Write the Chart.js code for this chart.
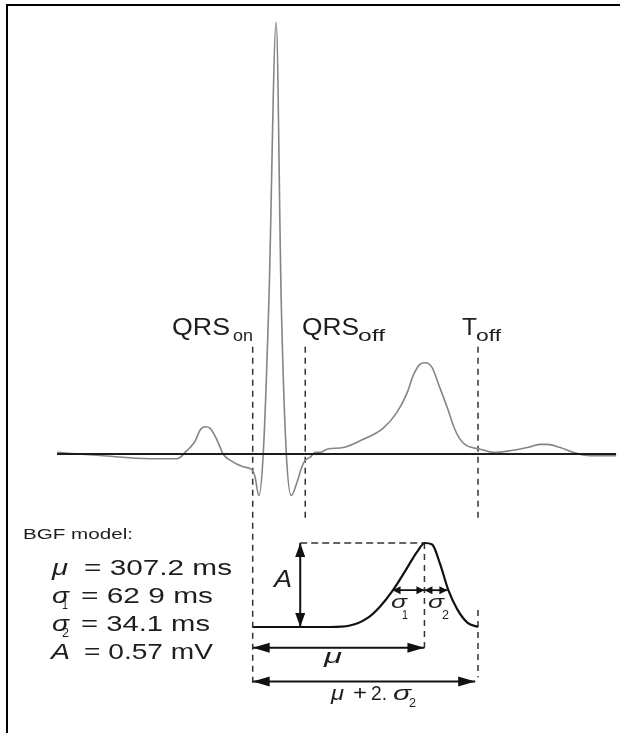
<!DOCTYPE html>
<html>
<head>
<meta charset="utf-8">
<script src="https://cdn.jsdelivr.net/npm/chart.js@4.4.1/dist/chart.umd.min.js"></script>
<style>
  body { margin: 0; background: #fff; }
  canvas { display: block; }
</style>
</head>
<body>
<canvas id="ecgChart" width="620" height="733"></canvas>
<script>
// ECG beat, time in ms from start of trace, amplitude in mV
const ecgTime = [0, 77, 166, 215, 224, 229, 238, 247, 256, 265, 274, 283, 292, 297, 310, 333, 349, 354, 361, 369,
  379, 392, 401, 410, 419, 429, 438, 444, 453, 462, 471, 483, 512, 547, 583, 608, 626, 637, 649, 658,
  671, 682, 698, 712, 726, 742, 757, 780, 810, 841, 864, 877, 900, 923, 954, 1000];
const ecgMv = [0.01, -0.01, -0.03, -0.03, -0.01, 0.01, 0.04, 0.08, 0.15, 0.17, 0.16, 0.11, 0.04, 0, -0.04, -0.08, -0.10, -0.14, -0.26, 0.01,
  0.96, 2.70, 0.96, 0.01, -0.26, -0.18, -0.08, -0.04, -0.02, 0.01, 0.01, 0.03, 0.04, 0.09, 0.16, 0.26, 0.38, 0.49, 0.56, 0.57,
  0.54, 0.44, 0.29, 0.15, 0.07, 0.04, 0.03, 0.01, 0.02, 0.04, 0.06, 0.06, 0.04, 0.01, -0.01, -0.01];

// fiducial marks (ms)
const markerNames = ['QRSon', 'QRSoff', 'Toff'];
const markerTime = [350, 444, 753];

// bi-gaussian model sketch
const bgfTime = [350, 488, 524, 555, 578, 601, 626, 644, 658, 671, 685, 700, 716, 734, 753];
const bgfMv = [0, 0, 0.01, 0.06, 0.14, 0.25, 0.40, 0.51, 0.57, 0.56, 0.43, 0.25, 0.12, 0.03, 0];

// model parameters
const bgfMu = 307.2;
const bgfSigma1 = 62.9;
const bgfSigma2 = 34.1;
const bgfA = 0.57;

const pts = (xs, ys) => xs.map((x, i) => ({ x: x, y: ys[i] }));
const seg = (x0, y0, x1, y1) => [{ x: x0, y: y0 }, { x: x1, y: y1 }];

const qrsOn = markerTime[0];
const peakT = qrsOn + bgfMu;

function line(data, color, width, extra) {
  return Object.assign({ data: data, showLine: true, borderColor: color, borderWidth: width,
    pointRadius: 0, tension: 0, fill: false }, extra || {});
}
const dash = { borderDash: [6, 5] };

var datasets = [
  line(seg(0, 0, 1000, 0), '#1c1c1c', 2),
  line(pts(ecgTime, ecgMv), '#858585', 1.6, { cubicInterpolationMode: 'monotone' }),
  line(seg(markerTime[0], 0.67, markerTime[0], -1.43), '#333', 1.5, dash),
  line(seg(markerTime[1], 0.67, markerTime[1], -0.40), '#333', 1.5, dash),
  line(seg(markerTime[2], 0.67, markerTime[2], -0.40), '#333', 1.5, dash),
  line(pts(bgfTime, bgfMv), '#111', 2.2, { yAxisID: 'yBgf', cubicInterpolationMode: 'monotone' }),
  line(seg(435, bgfA, peakT, bgfA), '#333', 1.5, { yAxisID: 'yBgf', borderDash: [7, 4] }),
  line(seg(peakT, bgfA, peakT, -0.14), '#333', 1.5, { yAxisID: 'yBgf', borderDash: [6, 5] }),
  line(seg(markerTime[2], 0.115, markerTime[2], -0.34), '#333', 1.5, { yAxisID: 'yBgf', borderDash: [6, 5] }),
  // arrows
  line(seg(435, 0, 435, bgfA), '#111', 2, { yAxisID: 'yBgf', heads: [14, 5] }),
  line(seg(peakT - 57, 0.25, peakT, 0.25), '#111', 1.8, { yAxisID: 'yBgf', heads: [8, 4] }),
  line(seg(peakT, 0.25, peakT + 41, 0.25), '#111', 1.8, { yAxisID: 'yBgf', heads: [8, 4] }),
  line(seg(qrsOn, -0.14, peakT, -0.14), '#111', 2, { yAxisID: 'yBgf', heads: [17, 5] }),
  line(seg(qrsOn, -0.37, 748, -0.37), '#111', 2, { yAxisID: 'yBgf', heads: [17, 5] })
];

const arrowHeads = {
  id: 'arrowHeads',
  afterDatasetsDraw(chart) {
    const ctx = chart.ctx;
    chart.data.datasets.forEach((ds, i) => {
      if (!ds.heads) return;
      const p = chart.getDatasetMeta(i).data;
      const a = p[0], b = p[p.length - 1];
      [[a, b], [b, a]].forEach(function (pair) {
        const tip = pair[0], from = pair[1];
        const ang = Math.atan2(tip.y - from.y, tip.x - from.x);
        ctx.save();
        ctx.translate(tip.x, tip.y);
        ctx.rotate(ang);
        ctx.beginPath();
        ctx.moveTo(0, 0);
        ctx.lineTo(-ds.heads[0], -ds.heads[1]);
        ctx.lineTo(-ds.heads[0], ds.heads[1]);
        ctx.closePath();
        ctx.fillStyle = ds.borderColor;
        ctx.fill();
        ctx.restore();
      });
    });
  }
};

const FONT = '"Liberation Sans", Arial, sans-serif';
// [text, x, baseline y, size, style, target width]
const notes = [
  ['QRS', 172, 335, 23, '', 58], ['on', 233, 341, 16, '', 20],
  ['QRS', 302, 335, 23, '', 57], ['off', 358, 341, 16, '', 27],
  ['T', 462, 335, 23, '', 15], ['off', 476, 341, 16, '', 25],
  ['BGF model:', 23, 539, 15, '', 110],
  ['\u03BC', 52, 575, 22, 'italic ', 16], ['= 307.2 ms', 84, 575, 22, '', 148],
  ['\u03C3', 52, 603, 22, 'italic ', 17], ['1', 62, 609, 12, '', 6], ['= 62 9 ms', 81, 603, 22, '', 132],
  ['\u03C3', 52, 631, 22, 'italic ', 17], ['2', 62, 637, 12, '', 7], ['= 34.1 ms', 81, 631, 22, '', 129],
  ['A', 51, 659, 22, 'italic ', 19], ['= 0.57 mV', 84, 659, 22, '', 129],
  ['A', 274, 587, 23, 'italic ', 18],
  ['\u03C3', 391, 608, 19, 'italic ', 16], ['1', 402, 619, 13, '', 6],
  ['\u03C3', 428, 608, 19, 'italic ', 16], ['2', 442, 619, 13, '', 7],
  ['\u03BC', 324, 663, 21, 'italic ', 18],
  ['\u03BC', 331, 700, 20, 'italic ', 13], ['+', 353, 700, 20, '', 14], ['2.', 371, 700, 20, '', 16],
  ['\u03C3', 393, 700, 20, 'italic ', 18], ['2', 409, 707, 12, '', 7]
];

const frameAndText = {
  id: 'frameAndText',
  beforeDraw(chart) {
    const ctx = chart.ctx;
    ctx.save();
    ctx.fillStyle = '#fff';
    ctx.fillRect(0, 0, chart.width, chart.height);
    ctx.fillStyle = '#000';
    ctx.fillRect(6, 4, chart.width - 6, 2);
    ctx.fillRect(6, 4, 2, chart.height - 4);
    ctx.restore();
  },
  afterDraw(chart) {
    const ctx = chart.ctx;
    notes.forEach(function (n) {
      ctx.save();
      ctx.font = n[4] + n[3] + 'px ' + FONT;
      ctx.fillStyle = '#1e1e1e';
      const w = ctx.measureText(n[0]).width;
      ctx.translate(n[1], n[2]);
      ctx.scale(n[5] / w, 1);
      ctx.fillText(n[0], 0, 0);
      ctx.restore();
    });
  }
};

const ctx = document.getElementById('ecgChart').getContext('2d');
const chart = new Chart(ctx, {
  type: 'scatter',
  data: { datasets: datasets },
  options: {
    responsive: false,
    animation: false,
    events: [],
    layout: { padding: 0 },
    plugins: { legend: { display: false }, tooltip: { enabled: false } },
    scales: {
      x: { type: 'linear', display: false, min: -102, max: 1007 },
      y: { type: 'linear', display: false, min: -1.744, max: 2.8375 },
      yBgf: { type: 'linear', display: false, min: -0.719, max: 4.254 }
    }
  },
  plugins: [arrowHeads, frameAndText]
});
</script>
</body>
</html>
